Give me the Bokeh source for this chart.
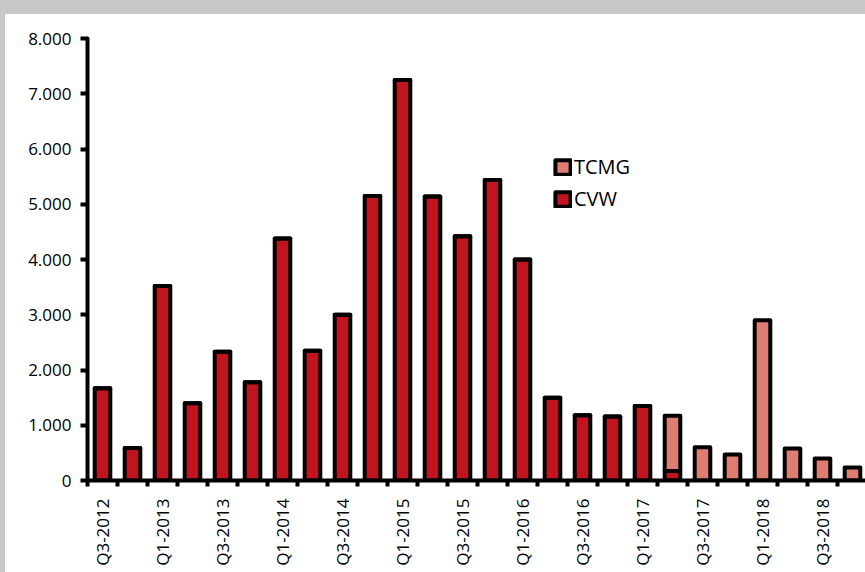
import math
from bokeh.plotting import figure
from bokeh.models import (ColumnDataSource, FixedTicker, Legend, LegendItem, InlineStyleSheet)
from bokeh.embed import file_html
from bokeh.resources import INLINE

quarters = ["Q3-2012", "Q4-2012", "Q1-2013", "Q2-2013", "Q3-2013", "Q4-2013",
            "Q1-2014", "Q2-2014", "Q3-2014", "Q4-2014", "Q1-2015", "Q2-2015",
            "Q3-2015", "Q4-2015", "Q1-2016", "Q2-2016", "Q3-2016", "Q4-2016",
            "Q1-2017", "Q2-2017", "Q3-2017", "Q4-2017", "Q1-2018", "Q2-2018",
            "Q3-2018", "Q4-2018"]
cvw = [1670, 590, 3520, 1400, 2330, 1780, 4380, 2350, 3000, 5150, 7250, 5140,
       4420, 5440, 4000, 1500, 1180, 1160, 1350, 170, 0, 0, 0, 0, 0, 0]
tcmg = [0, 0, 0, 0, 0, 0, 0, 0, 0, 0, 0, 0,
        0, 0, 0, 0, 0, 0, 0, 1000, 600, 470, 2900, 580, 400, 235]
y_ticks = [0, 1000, 2000, 3000, 4000, 5000, 6000, 7000, 8000]
y_tick_labels = ["0", "1.000", "2.000", "3.000", "4.000", "5.000", "6.000", "7.000", "8.000"]

FONT = "Open Sans"
CVW_COLOR = "#C1141F"
TCMG_COLOR = "#E07D72"
GRAY = "#c8c8c8"

x = list(range(len(quarters)))
src = ColumnDataSource(dict(x=x, cvw=cvw, tcmg=tcmg))

p = figure(width=865, height=572, output_backend="svg", toolbar_location=None,
           x_range=(-0.5, -0.5 + 778 / 30), y_range=(0, 8000),
           min_border_left=87, min_border_right=0, min_border_top=38,
           min_border_bottom=92)
p.outline_line_color = None
p.grid.visible = False
p.background_fill_color = "white"
p.border_fill_color = "white"

rs = p.vbar_stack(["cvw", "tcmg"], x="x", width=0.52, source=src,
                  fill_color=[CVW_COLOR, TCMG_COLOR], line_color="black",
                  line_width=4, line_join="round")

# y axis
ya = p.yaxis[0]
ya.ticker = FixedTicker(ticks=y_ticks)
ya.major_label_overrides = {t: l for t, l in zip(y_ticks, y_tick_labels)}
ya.minor_tick_line_color = None
ya.axis_line_width = 4
ya.axis_line_cap = "round"
ya.major_tick_line_width = 4
ya.major_tick_in = 0
ya.major_tick_out = 7
ya.major_label_standoff = 9
ya.major_label_text_font = FONT
ya.major_label_text_font_size = "17px"
ya.major_label_text_color = "black"

# x axis
xa = p.xaxis[0]
label_pos = x[::2]
xa.ticker = FixedTicker(ticks=label_pos,
                        minor_ticks=[i - 0.5 for i in range(len(quarters) + 1)])
xa.major_label_overrides = {i: quarters[i] for i in label_pos}
xa.major_label_orientation = math.pi / 2
xa.major_tick_line_color = None
xa.major_tick_in = 0
xa.major_tick_out = 6
xa.minor_tick_line_color = "black"
xa.minor_tick_line_width = 4
xa.minor_tick_in = 0
xa.minor_tick_out = 6
xa.axis_line_width = 4
xa.axis_line_cap = "round"
xa.major_label_standoff = 12
xa.major_label_text_font = FONT
xa.major_label_text_font_size = "17px"
xa.major_label_text_color = "black"

legend = Legend(items=[LegendItem(label="TCMG", renderers=[rs[1]]),
                       LegendItem(label="CVW", renderers=[rs[0]])],
                location=(466, 268), orientation="vertical",
                glyph_width=19, glyph_height=18, label_height=20,
                label_standoff=2, spacing=5, padding=0, margin=0,
                border_line_color=None, background_fill_alpha=0,
                label_text_font=FONT, label_text_font_size="20px",
                label_text_color="black")
p.add_layout(legend)

# gray strips of the original screenshot frame (top and left edges)
p.stylesheets = [InlineStyleSheet(css="""
:host { position: relative; }
:host::before { content: ""; position: absolute; left: 0; top: 0; width: 865px;
  height: 14px; background: #c8c8c8; z-index: 100; pointer-events: none; }
:host::after { content: ""; position: absolute; left: 0; top: 0; width: 5px;
  height: 572px; background: #c8c8c8; z-index: 100; pointer-events: none; }
""")]

open("out.html", "w").write(file_html(p, INLINE))
